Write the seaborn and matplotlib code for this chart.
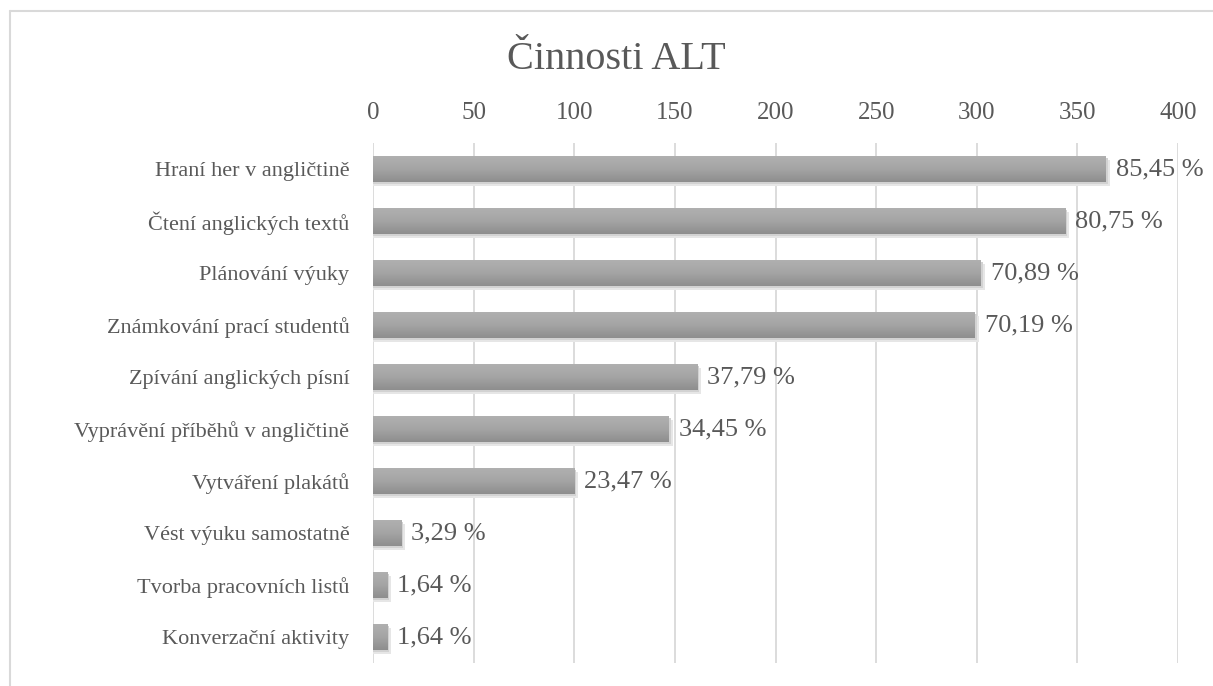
import matplotlib
matplotlib.use('Agg')
import matplotlib.pyplot as plt
import seaborn as sns
import pandas as pd
import numpy as np
from matplotlib.lines import Line2D
from matplotlib.colors import LinearSegmentedColormap

# data
categories = ['Hraní her v angličtině', 'Čtení anglických textů', 'Plánování výuky',
              'Známkování prací studentů', 'Zpívání anglických písní',
              'Vyprávění příběhů v angličtině', 'Vytváření plakátů',
              'Vést výuku samostatně', 'Tvorba pracovních listů', 'Konverzační aktivity']
counts = [364, 344, 302, 299, 161, 147, 100, 14, 7, 7]
pct_labels = ['85,45 %', '80,75 %', '70,89 %', '70,19 %', '37,79 %',
              '34,45 %', '23,47 %', '3,29 %', '1,64 %', '1,64 %']
x_ticks = [0, 50, 100, 150, 200, 250, 300, 350, 400]

df = pd.DataFrame({'cinnost': categories, 'pocet': counts})

sns.set_theme(style='white')
plt.rcParams['font.family'] = ['Liberation Serif', 'DejaVu Serif']
txt = '#595959'

fig = plt.figure(figsize=(12.13, 6.86), dpi=100)
ax = fig.add_axes([0.3075, 0.0335, 0.6637, 0.758])

# soft shadow (two layers)
for dx, dy, col in [(2.0, 0.07, '#e6e6e6'), (1.0, 0.035, '#d2d2d2')]:
    start = len(ax.patches)
    sns.barplot(data=df, y='cinnost', x=[c + dx for c in counts], orient='h',
                color=col, width=0.5, ax=ax, saturation=1, zorder=2)
    for p in ax.patches[start:]:
        p.set_y(p.get_y() + dy)
        p.set_edgecolor('none')

start = len(ax.patches)
sns.barplot(data=df, y='cinnost', x='pocet', orient='h',
            color='#a3a3a3', width=0.5, ax=ax, saturation=1, zorder=3)
bars = ax.patches[start:]

# vertical gradient on bars
cmap = LinearSegmentedColormap.from_list('g', ['#b0b0b0', '#a4a4a4', '#8e8e8e'])
grad = np.linspace(0, 1, 64).reshape(-1, 1)
for p in bars:
    p.set_edgecolor('none')
    x0, y0 = p.get_x(), p.get_y()
    w, h = p.get_width(), p.get_height()
    im = ax.imshow(grad, cmap=cmap, aspect='auto', origin='upper',
                   extent=[x0, x0 + w, y0 + h, y0], zorder=3.5)
    im.set_clip_path(p)

for i, (v, lab) in enumerate(zip(counts, pct_labels)):
    ax.text(v + 5, i, lab, va='center', ha='left', fontsize=19, color=txt, zorder=4)

ax.set_xlim(0, 400)
ax.set_ylim(len(categories) - 0.5, -0.5)
ax.set_xticks(x_ticks)
ax.xaxis.tick_top()
ax.tick_params(axis='x', length=0, pad=13.5, labelsize=18, labelcolor=txt)
ax.tick_params(axis='y', length=0, pad=17, labelsize=16, labelcolor=txt)
ax.set_xlabel('')
ax.set_ylabel('')
ax.grid(axis='x', color='#d9d9d9', linewidth=1.3, zorder=0)
ax.set_axisbelow(True)
for s in ax.spines.values():
    s.set_visible(False)

fig.text(0.508, 0.913, 'Činnosti ALT', ha='center', va='center', fontsize=29, color=txt)

# chart frame
fig.add_artist(Line2D([10 / 1213, 1], [1 - 11 / 686, 1 - 11 / 686], color='#d9d9d9', linewidth=1.5))
fig.add_artist(Line2D([10 / 1213, 10 / 1213], [0, 1 - 11 / 686], color='#d9d9d9', linewidth=1.5))

fig.savefig('out.png', dpi=100, facecolor='white')
